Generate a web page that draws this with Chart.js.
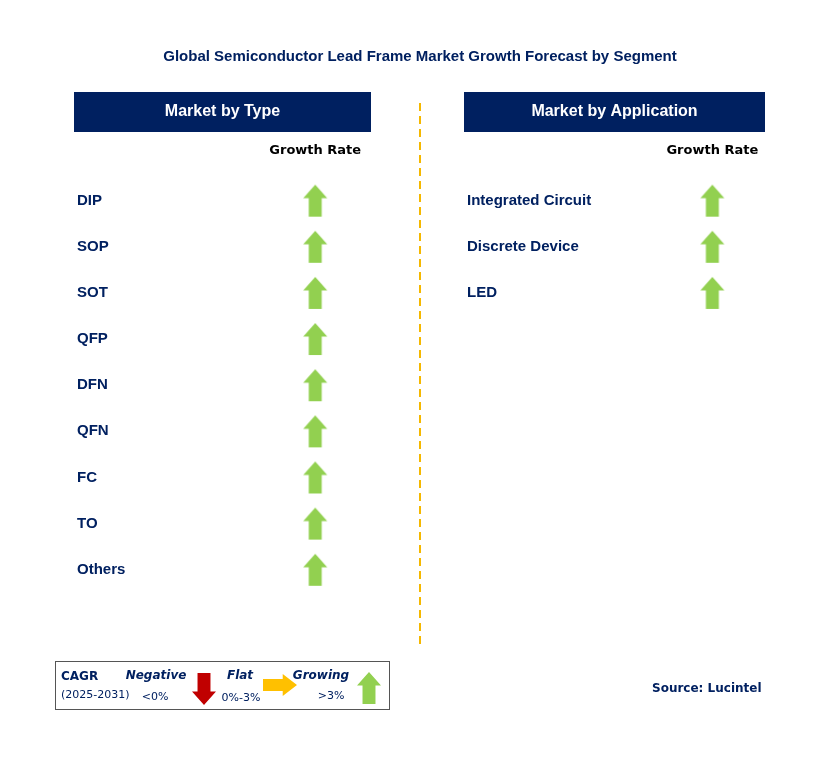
<!DOCTYPE html>
<html>
<head>
<meta charset="utf-8">
<script src="https://cdn.jsdelivr.net/npm/chart.js@4/dist/chart.umd.min.js"></script>
<style>
  html, body { margin: 0; padding: 0; background: #fff; }
  #wrap { width: 835px; height: 775px; }
</style>
</head>
<body>
<div id="wrap"><canvas id="chart"></canvas></div>
<script>
// --- Data ---
const chartTitle = 'Global Semiconductor Lead Frame Market Growth Forecast by Segment';
const typeSegments = ['DIP', 'SOP', 'SOT', 'QFP', 'DFN', 'QFN', 'FC', 'TO', 'Others'];
const typeGrowth = ['up', 'up', 'up', 'up', 'up', 'up', 'up', 'up', 'up'];
const appSegments = ['Integrated Circuit', 'Discrete Device', 'LED'];
const appGrowth = ['up', 'up', 'up'];
const panelTitles = ['Market by Type', 'Market by Application'];

const NAVY = '#002060';
const GREEN = '#92D050';

// --- Arrow drawing ---
function drawArrow(ctx, cx, cy, dir, color, w, h) {
    ctx.save();
    ctx.translate(cx, cy);
    if (dir === 'down') ctx.rotate(Math.PI);
    if (dir === 'right') ctx.rotate(Math.PI / 2);
    const hw = w / 2, sw = w * 0.27, headH = h * 0.42;
    ctx.beginPath();
    ctx.moveTo(0, -h / 2);
    ctx.lineTo(hw, -h / 2 + headH);
    ctx.lineTo(sw, -h / 2 + headH);
    ctx.lineTo(sw, h / 2);
    ctx.lineTo(-sw, h / 2);
    ctx.lineTo(-sw, -h / 2 + headH);
    ctx.lineTo(-hw, -h / 2 + headH);
    ctx.closePath();
    ctx.fillStyle = color;
    ctx.fill();
    ctx.restore();
}

function arrowImage(dir) {
    const c = document.createElement('canvas');
    c.width = 26; c.height = 34;
    drawArrow(c.getContext('2d'), 13, 17, dir, GREEN, 24, 32);
    return c;
}
const upArrow = arrowImage('up');

const typePoints = typeGrowth.map((g, i) => ({ x: 0, y: i, label: typeSegments[i] }));
const appPoints = appGrowth.map((g, i) => ({ x: 1, y: i, label: appSegments[i] }));

// --- Static layout plugin ---
const layoutPlugin = {
    id: 'layout',
    afterDraw(chart) {
        const ctx = chart.ctx;
        const xs = chart.scales.x, ys = chart.scales.y;
        ctx.save();
        ctx.textBaseline = 'middle';

        ctx.fillStyle = NAVY;
        ctx.font = 'bold 15px "Liberation Sans", Arial, sans-serif';
        ctx.textAlign = 'center';
        ctx.fillText(chartTitle, 420, 57);

        // panel headers
        const panels = [[74, 297], [464, 301]];
        panels.forEach((p, i) => {
            ctx.fillStyle = NAVY;
            ctx.fillRect(p[0], 92, p[1], 40);
            ctx.fillStyle = '#fff';
            ctx.font = 'bold 16px "Liberation Sans", Arial, sans-serif';
            ctx.fillText(panelTitles[i], p[0] + p[1] / 2, 112);
        });

        ctx.fillStyle = '#000';
        ctx.font = 'bold 13px "DejaVu Sans", Verdana, sans-serif';
        ctx.fillText('Growth Rate', xs.getPixelForValue(0), 151);
        ctx.fillText('Growth Rate', xs.getPixelForValue(1), 151);

        // row labels
        ctx.fillStyle = NAVY;
        ctx.textAlign = 'left';
        ctx.font = 'bold 15px "Liberation Sans", Arial, sans-serif';
        typeSegments.forEach((s, i) => ctx.fillText(s, 77, ys.getPixelForValue(i)));
        appSegments.forEach((s, i) => ctx.fillText(s, 467, ys.getPixelForValue(i)));

        // divider
        ctx.strokeStyle = '#F5B800';
        ctx.lineWidth = 2;
        ctx.setLineDash([8, 5]);
        ctx.beginPath();
        ctx.moveTo(420, 103);
        ctx.lineTo(420, 646);
        ctx.stroke();
        ctx.setLineDash([]);

        // legend box
        ctx.strokeStyle = '#555';
        ctx.lineWidth = 1;
        ctx.strokeRect(55.5, 661.5, 334, 48);
        ctx.fillStyle = NAVY;
        ctx.font = 'bold 12px "DejaVu Sans", sans-serif';
        ctx.fillText('CAGR', 61, 677);
        ctx.font = '11px "DejaVu Sans", sans-serif';
        ctx.fillText('(2025-2031)', 61, 695);
        ctx.font = 'italic bold 12px "DejaVu Sans", sans-serif';
        ctx.textAlign = 'center';
        ctx.fillText('Negative', 156, 676);
        ctx.fillText('Flat', 240, 676);
        ctx.fillText('Growing', 321, 676);
        ctx.font = '11px "DejaVu Sans", sans-serif';
        ctx.fillText('<0%', 155, 697);
        ctx.fillText('0%-3%', 241, 698);
        ctx.fillText('>3%', 331, 696);
        drawArrow(ctx, 204, 689, 'down', '#C00000', 24, 32);
        drawArrow(ctx, 280, 685, 'right', '#FFC000', 22, 34);
        drawArrow(ctx, 369, 688, 'up', GREEN, 24, 32);

        ctx.fillStyle = NAVY;
        ctx.textAlign = 'left';
        ctx.font = 'bold 12px "DejaVu Sans", sans-serif';
        ctx.fillText('Source: Lucintel', 652, 689);
        ctx.restore();
    }
};

new Chart(document.getElementById('chart'), {
    type: 'scatter',
    data: {
        datasets: [
            { data: typePoints, pointStyle: upArrow, pointRadius: 16 },
            { data: appPoints, pointStyle: upArrow, pointRadius: 16 }
        ]
    },
    options: {
        responsive: true,
        maintainAspectRatio: false,
        animation: false,
        layout: { padding: 0 },
        scales: {
            x: { type: 'linear', display: false, min: -0.751, max: 1.266 },
            y: { type: 'linear', display: false, reverse: true, min: -3.98, max: 12.08 }
        },
        plugins: { legend: { display: false }, tooltip: { enabled: false } }
    },
    plugins: [layoutPlugin]
});
</script>
</body>
</html>
